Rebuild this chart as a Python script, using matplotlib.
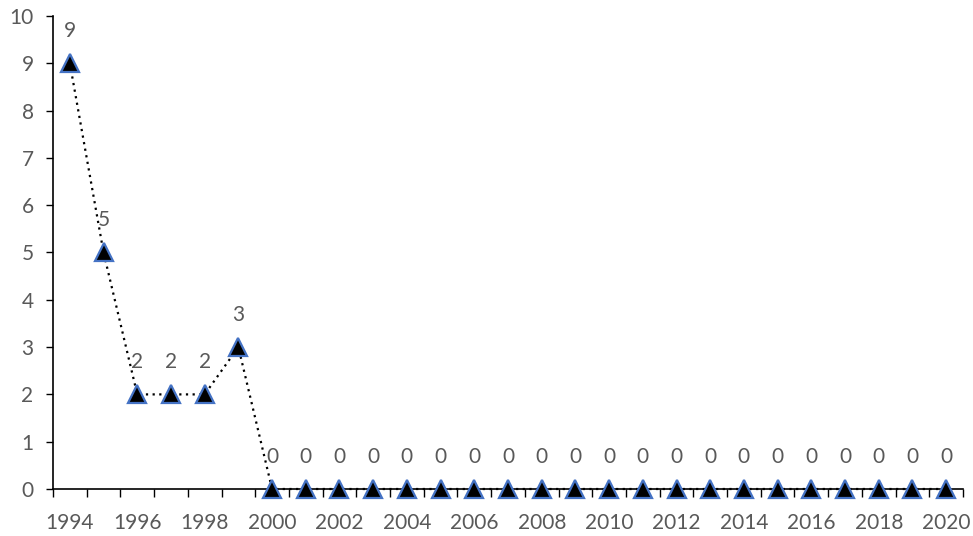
import matplotlib.pyplot as plt

years = list(range(1994, 2021))
counts = [9, 5, 2, 2, 2, 3] + [0] * 21

plt.rcParams["font.family"] = ["Lato", "DejaVu Sans"]
gray = "#595959"

fig = plt.figure(figsize=(9.73, 5.36), dpi=100)
ax = fig.add_axes([53 / 973, 47 / 536, 910 / 973, 473 / 536])

idx = list(range(len(years)))
ax.plot(idx, counts, color="black", linestyle=(0, (1, 2)), linewidth=1.6,
        marker="^", markersize=13.5, markerfacecolor="black",
        markeredgecolor="#4472C4", markeredgewidth=1.6, clip_on=False, zorder=3)

for i, v in zip(idx, counts):
    ax.annotate(str(v), (i, v), xytext=(0, 16), textcoords="offset points",
                ha="center", va="bottom", color=gray, fontsize=15)

ax.set_xlim(-0.5, len(years) - 0.5)
ax.set_ylim(0, 10)
ax.set_yticks(range(0, 11))
ax.tick_params(axis="y", colors=gray, labelsize=15, length=5, width=1, color="black", pad=9)

# ticks between categories, labels on every second category
ax.set_xticks([i - 0.5 for i in range(len(years) + 1)])
ax.set_xticklabels([])
ax.set_xticks(idx[::2], minor=True)
ax.set_xticklabels([str(y) for y in years[::2]], minor=True)
ax.tick_params(axis="x", which="major", length=6, width=1, color="black")
ax.tick_params(axis="x", which="minor", length=0, colors=gray, labelsize=15, pad=17)

for s in ["top", "right"]:
    ax.spines[s].set_visible(False)
for s in ["left", "bottom"]:
    ax.spines[s].set_color("black")
    ax.spines[s].set_linewidth(1.2)

fig.savefig("out.png", dpi=100)
